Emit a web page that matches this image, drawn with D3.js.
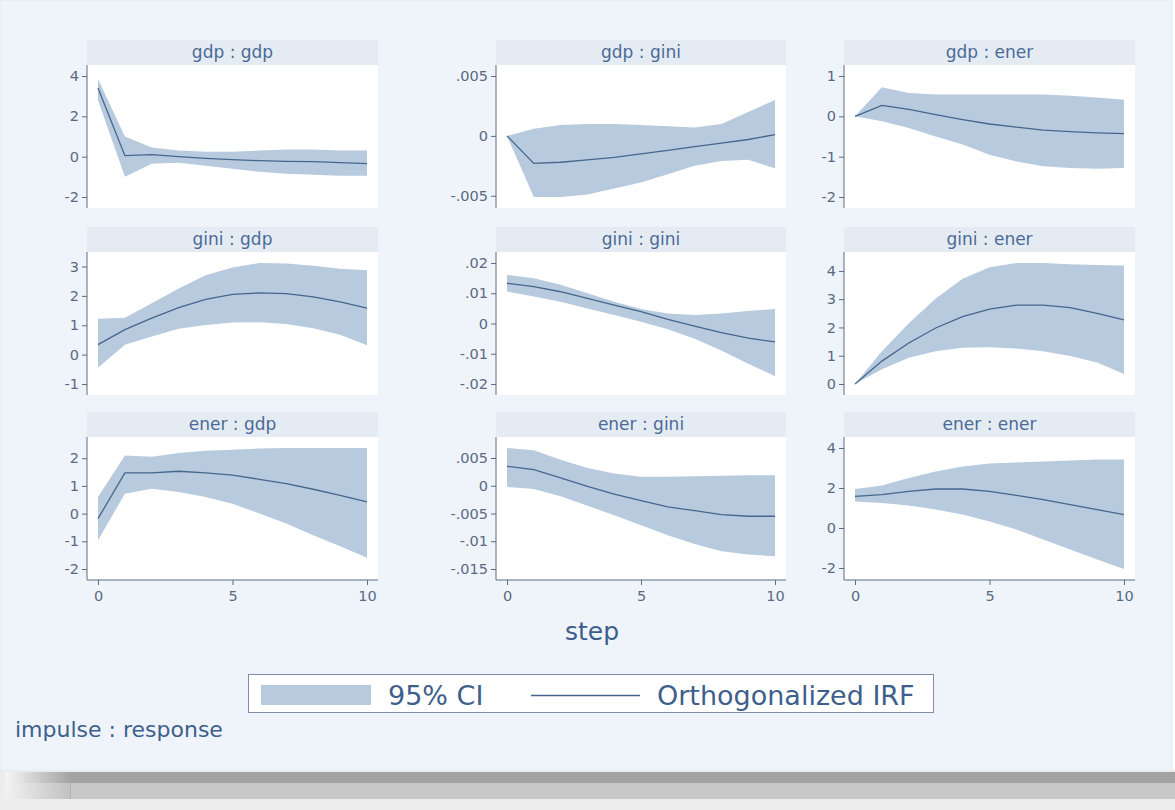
<!DOCTYPE html>
<html>
<head>
<meta charset="utf-8">
<script src="https://cdn.jsdelivr.net/npm/d3@7"></script>
<style>
  html, body { margin: 0; padding: 0; background: #ffffff; }
  svg { display: block; }
  text { font-family: "DejaVu Sans", Verdana, sans-serif; }
</style>
</head>
<body>
<svg id="chart" width="1175" height="810"></svg>
<script>
// ---------------- DATA ----------------
const steps = [0, 1, 2, 3, 4, 5, 6, 7, 8, 9, 10];
const impulses = ["gdp", "gini", "ener"];
const responses = ["gdp", "gini", "ener"];

// gdp -> gdp
const irf_gdp_gdp = [3.4, 0.05, 0.1, 0.0, -0.08, -0.15, -0.2, -0.23, -0.25, -0.3, -0.35];
const lo_gdp_gdp  = [2.8, -1.0, -0.35, -0.3, -0.45, -0.6, -0.75, -0.85, -0.9, -0.95, -0.95];
const hi_gdp_gdp  = [3.85, 1.0, 0.45, 0.3, 0.25, 0.25, 0.3, 0.35, 0.35, 0.3, 0.3];
const ticks_gdp_gdp = [-2, 0, 2, 4];
// gdp -> gini
const irf_gdp_gini = [0, -0.0023, -0.0022, -0.002, -0.0018, -0.0015, -0.0012, -0.0009, -0.0006, -0.0003, 0.0001];
const lo_gdp_gini  = [0, -0.0051, -0.0051, -0.0049, -0.0044, -0.0039, -0.0032, -0.0025, -0.0021, -0.002, -0.0027];
const hi_gdp_gini  = [0, 0.0006, 0.0009, 0.001, 0.001, 0.0009, 0.0008, 0.0007, 0.001, 0.002, 0.003];
const ticks_gdp_gini = [-0.005, 0, 0.005];
// gdp -> ener
const irf_gdp_ener = [0, 0.27, 0.17, 0.04, -0.08, -0.19, -0.27, -0.34, -0.38, -0.41, -0.43];
const lo_gdp_ener  = [0, -0.12, -0.29, -0.5, -0.7, -0.95, -1.12, -1.24, -1.28, -1.3, -1.28];
const hi_gdp_ener  = [0, 0.72, 0.58, 0.54, 0.54, 0.54, 0.54, 0.54, 0.51, 0.47, 0.41];
const ticks_gdp_ener = [-2, -1, 0, 1];
// gini -> gdp
const irf_gini_gdp = [0.34, 0.85, 1.24, 1.6, 1.88, 2.05, 2.1, 2.08, 1.97, 1.8, 1.58];
const lo_gini_gdp  = [-0.45, 0.34, 0.62, 0.88, 1.01, 1.09, 1.1, 1.04, 0.9, 0.68, 0.32];
const hi_gini_gdp  = [1.22, 1.26, 1.75, 2.25, 2.7, 2.97, 3.12, 3.1, 3.03, 2.92, 2.87];
const ticks_gini_gdp = [-1, 0, 1, 2, 3];
// gini -> gini
const irf_gini_gini = [0.0133, 0.0122, 0.0105, 0.0083, 0.0061, 0.0039, 0.0014, -0.0009, -0.003, -0.0048, -0.0061];
const lo_gini_gini  = [0.0106, 0.0089, 0.0072, 0.005, 0.0028, 0.0006, -0.0019, -0.005, -0.0089, -0.0133, -0.0174];
const hi_gini_gini  = [0.0161, 0.015, 0.0128, 0.01, 0.0072, 0.0048, 0.0033, 0.0028, 0.0033, 0.0041, 0.0048];
const ticks_gini_gini = [-0.02, -0.01, 0, 0.01, 0.02];
// gini -> ener
const irf_gini_ener = [0, 0.81, 1.45, 1.98, 2.38, 2.65, 2.79, 2.79, 2.7, 2.5, 2.27];
const lo_gini_ener  = [0, 0.52, 0.93, 1.16, 1.28, 1.3, 1.26, 1.16, 0.99, 0.76, 0.35];
const hi_gini_ener  = [0, 1.16, 2.15, 3.02, 3.72, 4.13, 4.28, 4.28, 4.24, 4.21, 4.19];
const ticks_gini_ener = [0, 1, 2, 3, 4];
// ener -> gdp
const irf_ener_gdp = [-0.18, 1.47, 1.47, 1.53, 1.47, 1.39, 1.24, 1.08, 0.88, 0.66, 0.42];
const lo_ener_gdp  = [-0.96, 0.72, 0.9, 0.78, 0.6, 0.36, 0.0, -0.36, -0.78, -1.18, -1.59];
const hi_ener_gdp  = [0.6, 2.1, 2.05, 2.19, 2.27, 2.31, 2.35, 2.37, 2.37, 2.37, 2.37];
const ticks_ener_gdp = [-2, -1, 0, 1, 2];
// ener -> gini
const irf_ener_gini = [0.0035, 0.0029, 0.0014, -0.0001, -0.0015, -0.0027, -0.0038, -0.0045, -0.0052, -0.0055, -0.0055];
const lo_ener_gini  = [-0.0002, -0.0006, -0.0019, -0.0036, -0.0053, -0.0071, -0.0089, -0.0105, -0.0118, -0.0124, -0.0127];
const hi_ener_gini  = [0.0068, 0.0064, 0.0047, 0.0032, 0.0022, 0.0016, 0.0016, 0.0017, 0.0018, 0.0019, 0.0019];
const ticks_ener_gini = [-0.015, -0.01, -0.005, 0, 0.005];
// ener -> ener
const irf_ener_ener = [1.58, 1.67, 1.83, 1.95, 1.95, 1.83, 1.63, 1.42, 1.17, 0.92, 0.67];
const lo_ener_ener  = [1.33, 1.25, 1.12, 0.92, 0.67, 0.33, -0.08, -0.58, -1.08, -1.58, -2.05];
const hi_ener_ener  = [1.95, 2.12, 2.5, 2.83, 3.08, 3.22, 3.28, 3.33, 3.37, 3.42, 3.42];
const ticks_ener_ener = [-2, 0, 2, 4];

const xTicks = [0, 5, 10];
const legendLabels = ["95% CI", "Orthogonalized IRF"];
const xAxisTitle = "step";
const noteText = "impulse : response";

// table built from the arrays above
const panels = [
  {imp: "gdp",  res: "gdp",  irf: irf_gdp_gdp,  lo: lo_gdp_gdp,  hi: hi_gdp_gdp,  ticks: ticks_gdp_gdp},
  {imp: "gdp",  res: "gini", irf: irf_gdp_gini, lo: lo_gdp_gini, hi: hi_gdp_gini, ticks: ticks_gdp_gini},
  {imp: "gdp",  res: "ener", irf: irf_gdp_ener, lo: lo_gdp_ener, hi: hi_gdp_ener, ticks: ticks_gdp_ener},
  {imp: "gini", res: "gdp",  irf: irf_gini_gdp, lo: lo_gini_gdp, hi: hi_gini_gdp, ticks: ticks_gini_gdp},
  {imp: "gini", res: "gini", irf: irf_gini_gini,lo: lo_gini_gini,hi: hi_gini_gini,ticks: ticks_gini_gini},
  {imp: "gini", res: "ener", irf: irf_gini_ener,lo: lo_gini_ener,hi: hi_gini_ener,ticks: ticks_gini_ener},
  {imp: "ener", res: "gdp",  irf: irf_ener_gdp, lo: lo_ener_gdp, hi: hi_ener_gdp, ticks: ticks_ener_gdp},
  {imp: "ener", res: "gini", irf: irf_ener_gini,lo: lo_ener_gini,hi: hi_ener_gini,ticks: ticks_ener_gini},
  {imp: "ener", res: "ener", irf: irf_ener_ener,lo: lo_ener_ener,hi: hi_ener_ener,ticks: ticks_ener_ener}
];

// ---------------- STYLE / LAYOUT ----------------
const C = {
  bg: "#eff4fa",
  strip: "#e5ebf2",
  plot: "#ffffff",
  band: "#b8cadd",
  line: "#46668e",
  axis: "#5c6c84",
  tickText: "#5a6a82",
  stripText: "#4a6a98",
  title: "#3e5f8c"
};
const FONT = "'DejaVu Sans', Verdana, sans-serif";
const colLeft = [87, 496, 844];
const colRight = [378, 786, 1135];
const stripTop = [40, 227, 412];
const stripH = 25;
const plotH = 143;
const inner = 11;

const svg = d3.select("#chart");

// bottom shadow
const defs = svg.append("defs");
const gradL = defs.append("linearGradient").attr("id", "shL").attr("x1", 0).attr("x2", 1);
gradL.append("stop").attr("offset", "0%").attr("stop-color", "#f6f6f6");
gradL.append("stop").attr("offset", "100%").attr("stop-color", "#a3a3a3");
svg.append("rect").attr("x", 0).attr("y", 770).attr("width", 1175).attr("height", 40).attr("fill", "#ededed");
svg.append("rect").attr("x", 70).attr("y", 772).attr("width", 1105).attr("height", 11).attr("fill", "#a3a3a3");
svg.append("rect").attr("x", 5).attr("y", 772).attr("width", 66).attr("height", 11).attr("fill", "url(#shL)");
svg.append("rect").attr("x", 70).attr("y", 783).attr("width", 1105).attr("height", 16).attr("fill", "#c8c8c8");
svg.append("rect").attr("x", 5).attr("y", 783).attr("width", 66).attr("height", 16).attr("fill", "url(#shL)").attr("opacity", 0.6);

// chart background
svg.append("rect").attr("x", 0).attr("y", 0).attr("width", 1172).attr("height", 771)
  .attr("fill", C.bg).attr("stroke", "#e2e7ee").attr("stroke-width", 1);

const fmt = v => {
  if (v === 0) return "0";
  let s = String(+v.toFixed(6));
  return s.replace(/^(-?)0\./, "$1.");
};

const x = d3.scaleLinear().domain([0, 10]);

panels.forEach((p, i) => {
  const r = Math.floor(i / 3), c = i % 3;
  const L = colLeft[c], R = colRight[c];
  const sT = stripTop[r];
  const pT = sT + stripH, pB = pT + plotH;
  const g = svg.append("g");

  // strip
  g.append("rect").attr("x", L).attr("y", sT).attr("width", R - L).attr("height", stripH).attr("fill", C.strip);
  g.append("text").attr("x", (L + R) / 2).attr("y", sT + 18).attr("text-anchor", "middle")
    .attr("font-size", 17).attr("fill", C.stripText).text(p.imp + " : " + p.res);
  // plot region
  g.append("rect").attr("x", L).attr("y", pT).attr("width", R - L).attr("height", plotH).attr("fill", C.plot);

  const xs = x.copy().range([L + inner, R - inner]);
  const ext = d3.extent([...p.lo, ...p.hi, ...p.ticks]);
  const ys = d3.scaleLinear().domain(ext).range([pB - inner, pT + inner]);

  const area = d3.area().x((d, k) => xs(steps[k])).y0((d, k) => ys(p.lo[k])).y1((d, k) => ys(p.hi[k]));
  g.append("path").datum(steps).attr("d", area).attr("fill", C.band);
  const line = d3.line().x((d, k) => xs(steps[k])).y(d => ys(d));
  g.append("path").datum(p.irf).attr("d", line).attr("fill", "none")
    .attr("stroke", C.line).attr("stroke-width", 1.3);

  // y axis
  const ya = g.append("g").attr("transform", `translate(${L},0)`)
    .call(d3.axisLeft(ys).tickValues(p.ticks).tickFormat(fmt).tickSize(5).tickPadding(3).tickSizeOuter(0));
  ya.select(".domain").attr("stroke", C.axis).attr("d", `M0,${pT}V${pB}`);
  ya.selectAll(".tick line").attr("stroke", C.axis);
  ya.selectAll(".tick text").attr("fill", C.tickText).attr("font-size", 14.5).attr("font-family", FONT);

  // x axis on bottom row
  if (r === 2) {
    const xa = g.append("g").attr("transform", `translate(0,${pB})`)
      .call(d3.axisBottom(xs).tickValues(xTicks).tickFormat(d3.format("d")).tickSize(5).tickPadding(6).tickSizeOuter(0));
    xa.select(".domain").attr("stroke", C.axis).attr("d", `M${L},0H${R}`);
    xa.selectAll(".tick line").attr("stroke", C.axis);
    xa.selectAll(".tick text").attr("fill", C.tickText).attr("font-size", 14.5).attr("font-family", FONT);
  }
});

// x axis title
svg.append("text").attr("x", 592).attr("y", 640).attr("text-anchor", "middle")
  .attr("font-size", 25).attr("fill", C.title).text(xAxisTitle);

// legend
const lg = svg.append("g");
lg.append("rect").attr("x", 248.5).attr("y", 674.5).attr("width", 685).attr("height", 38)
  .attr("fill", "#ffffff").attr("stroke", "#7f8ea6").attr("stroke-width", 1);
lg.append("rect").attr("x", 261).attr("y", 685).attr("width", 110).attr("height", 20).attr("fill", C.band);
lg.append("text").attr("x", 388).attr("y", 705).attr("font-size", 27).attr("fill", C.title).text(legendLabels[0]);
lg.append("line").attr("x1", 531).attr("x2", 640).attr("y1", 695.5).attr("y2", 695.5)
  .attr("stroke", C.line).attr("stroke-width", 1.3);
lg.append("text").attr("x", 657).attr("y", 705).attr("font-size", 27).attr("fill", C.title).text(legendLabels[1]);

// note
svg.append("text").attr("x", 15).attr("y", 737).attr("font-size", 22).attr("fill", C.title).text(noteText);
</script>
</body>
</html>
